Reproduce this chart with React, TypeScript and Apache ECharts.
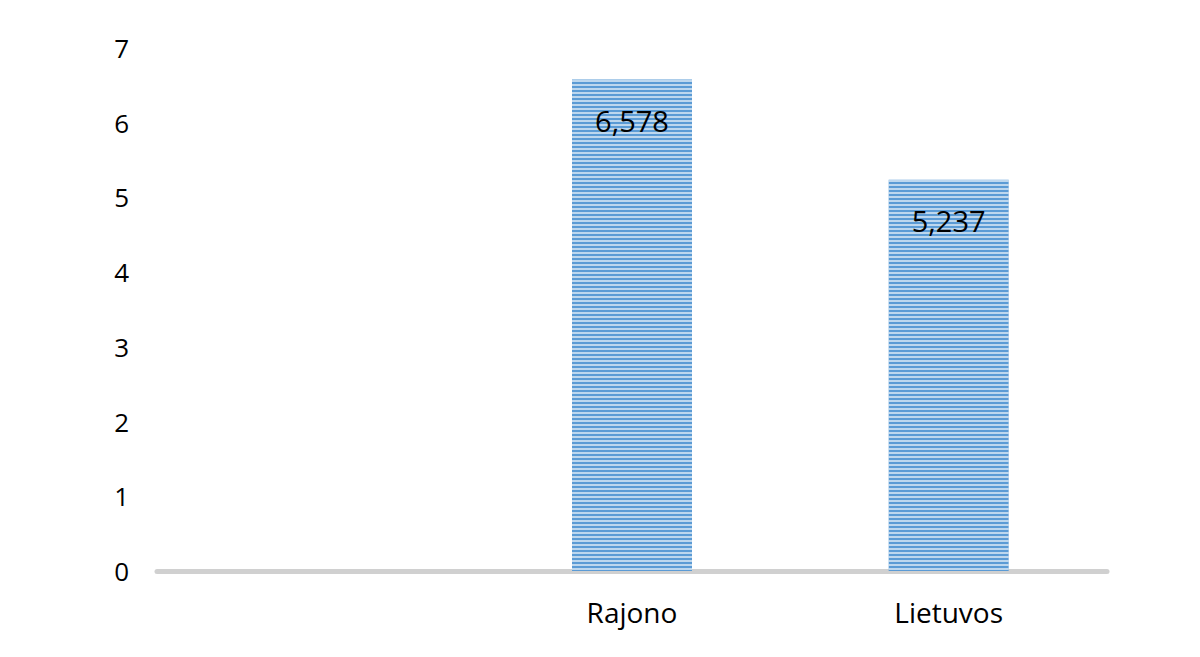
import React, { useEffect, useRef } from "react";
import * as echarts from "echarts";

const categories = ["", "Rajono", "Lietuvos"];
const values: (number | null)[] = [null, 6.578, 5.237];
const yTicks = [0, 7, 1];

export default function App() {
  const ref = useRef<HTMLDivElement>(null);
  useEffect(() => {
    const chart = echarts.init(ref.current!, null, { renderer: "svg" });
    chart.setOption({
      animation: false,
      grid: { left: 157, right: 93, top: 48, bottom: 86 },
      xAxis: {
        type: "category",
        data: categories,
        axisLine: { show: true, lineStyle: { color: "#d0d0d0", width: 5 } },
        axisTick: { show: false },
        axisLabel: {
          color: "#000",
          fontSize: 28,
          fontFamily: "Open Sans",
          margin: 27,
        },
      },
      yAxis: {
        type: "value",
        min: yTicks[0],
        max: yTicks[1],
        interval: yTicks[2],
        axisLine: { show: false },
        axisTick: { show: false },
        splitLine: { show: false },
        axisLabel: {
          color: "#000",
          fontSize: 26,
          fontFamily: "Open Sans",
          margin: 28,
        },
      },
      series: [
        {
          type: "bar",
          data: values,
          barWidth: 120,
          itemStyle: {
            color: "#5b9bd5",
            decal: {
              symbol: "rect",
              symbolSize: 1,
              dashArrayX: [1, 0],
              dashArrayY: [2, 2],
              rotation: 0,
              color: "rgba(255,255,255,0.6)",
            },
          },
          label: {
            show: true,
            position: "insideTop",
            distance: 26,
            color: "#000",
            fontSize: 29,
            fontFamily: "Open Sans",
            formatter: (p: any) => String(p.value).replace(".", ","),
          },
        },
      ],
    });
    return () => chart.dispose();
  }, []);
  return <div ref={ref} style={{ width: 1200, height: 657, margin: -8 }} />;
}
